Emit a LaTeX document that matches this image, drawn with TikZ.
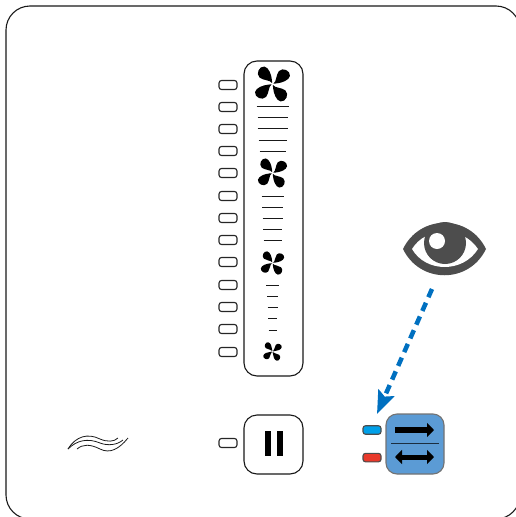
\documentclass[tikz,border=0pt]{standalone}
\usetikzlibrary{arrows.meta, positioning}

\definecolor{ledblue}{HTML}{00A0E9}
\definecolor{ledred}{HTML}{E8392B}
\definecolor{switchblue}{HTML}{5B9BD5}
\definecolor{gazeblue}{HTML}{0070C0}
\definecolor{eyegrey}{HTML}{4D4D4D}

\tikzset{
  ledbox/.style={draw=black!85, fill=white, rounded corners=2.5pt, minimum width=18pt, minimum height=9pt, inner sep=0pt, line width=1.1pt},
  panel/.style={draw=black!90, rounded corners=13pt, inner sep=0pt, line width=1.1pt},
  tick/.style={line width=1pt, black!90},
  wave/.style={line width=0.8pt, black!90},
  pics/fan/.style={code={
    \foreach \a in {0,-90,-180,-270}
      \fill[black, rotate=\a, y=1pt] (-0.02,0.05) .. controls (-0.15,0.24) and (-0.5,0.18) .. (-0.72,0.36)
        .. controls (-0.94,0.58) and (-0.74,1.0) .. (-0.45,0.97)
        .. controls (-0.2,0.92) and (-0.06,0.52) .. (-0.03,0.2) -- cycle;
  }}
}

\begin{document}
\begin{tikzpicture}[x=1pt, y=-1pt, >=Stealth]
\useasboundingbox (0,0) rectangle (515,517);

% Frame
\draw[black!90, line width=1.1pt, rounded corners=24pt] (6,6) rectangle (520,519);

% Nodes
\foreach \n/\y in {1/85,2/107,3/129,4/151,5/173,6/196,7/218,8/240,9/262,10/285,11/307,12/329,13/352}
  \node[ledbox] (led\n) at (228,\y) {};
\node[panel, minimum width=59pt, minimum height=315pt] (scale) at (273.5,218.5) {};
\node[panel, minimum width=59pt, minimum height=59pt] (pause) at (273.5,444.5) {};
\node[ledbox] (ledpause) at (228,443) {};
\node[draw=black!55, fill=switchblue, rounded corners=11pt, minimum width=58pt, minimum height=60pt, inner sep=0pt, line width=1.1pt] (switch) at (415,444) {};
\node[ledbox, draw=black!70, fill=ledblue, minimum height=8.5pt] (ledcool) at (372,430) {};
\node[ledbox, draw=black!70, fill=ledred, minimum height=8.5pt] (ledheat) [below=18pt of ledcool] {};

% Fans
\pic[scale=18] at (272.5,84) {fan};
\pic[scale=15] at (272.5,173) {fan};
\pic[scale=12] at (272.5,263) {fan};
\pic[scale=9.5] at (272.5,351.5) {fan};

% Speed steps
\foreach \y/\w in {106/16,117/15,128/15,140/14,151/13,196/11,207/10.5,218/10,229/9.5,240/9,285/6.5,296/5.5,307/5,318/4.5,330/4}
  \draw[tick] (272.5-\w,\y) -- (272.5+\w,\y);

% Pause
\fill[black] (265,431) rectangle (271,456);
\fill[black] (277,431) rectangle (283,456);

% Switch
\coordinate (topl) at (395,430);
\coordinate (topr) at (434,430);
\coordinate (botl) at (395,457);
\coordinate (botr) at (434,457);
\coordinate (divl) at (391,443);
\coordinate (divr) at (439,443);
\draw[line width=0.9pt, black!70!switchblue] (divl) -- (divr);
\draw[line width=5.5pt, -{Triangle[length=7pt,width=14pt]}] (topl) -- (topr);
\draw[line width=5pt, {Triangle[length=7pt,width=14pt]}-{Triangle[length=7pt,width=14pt]}] (botl) -- (botr);

% Eye
\fill[eyegrey] (403,249) .. controls (420,214) and (469,214) .. (486,249) .. controls (469,284) and (420,284) .. cycle;
\fill[white] (412,249) .. controls (426,226) and (463,226) .. (478,249) .. controls (463,273) and (426,273) .. cycle;
\fill[eyegrey] (445,243) circle (21);
\fill[white] (437,241) circle (8);

% Gaze
\coordinate (gazefrom) at (432,289);
\coordinate (gazeto) at (377,414);
\draw[gazeblue, line width=4.5pt, dash pattern=on 9pt off 6pt, -{Stealth[length=23pt,width=17pt,inset=4pt]}] (gazefrom) -- (gazeto);

% Wave
\draw[wave] (68,449) .. controls (76,436) and (88,433) .. (100,439) .. controls (107,442) and (114,442) .. (118,438);
\draw[wave] (68,449) .. controls (77,440) and (88,438) .. (100,443) .. controls (108,446) and (117,445) .. (123,440);
\draw[wave] (77,449) .. controls (83,444) and (90,444) .. (100,449) .. controls (110,454) and (119,449) .. (128,438);

\end{tikzpicture}
\end{document}
